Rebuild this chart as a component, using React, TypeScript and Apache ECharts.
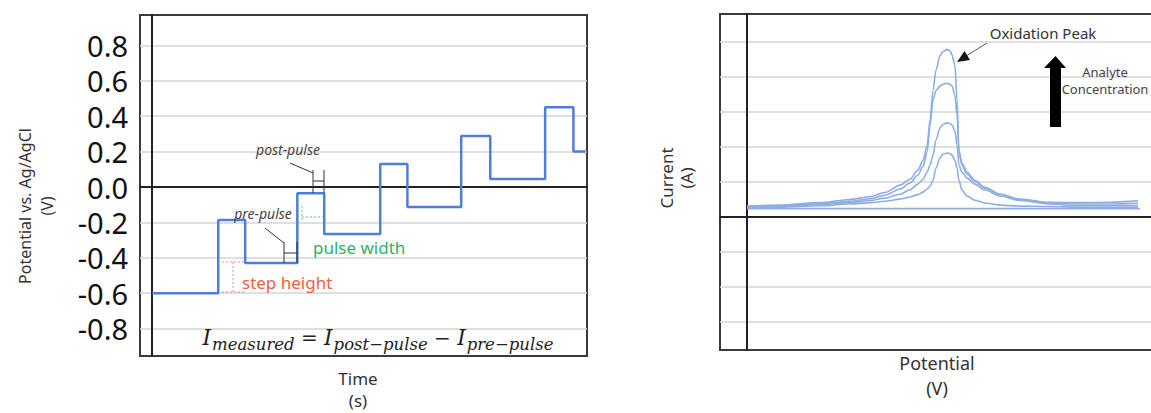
import React, { useEffect, useRef } from "react";
import * as echarts from "echarts";

// ---------- Left chart: differential pulse waveform ----------
const stepTimes = [0, 2.43, 3.42, 5.34, 6.33, 8.39, 9.39, 11.37, 12.44, 14.46, 15.5, 15.95];
const stepPotentials = [-0.6, -0.186, -0.43, -0.035, -0.265, 0.13, -0.113, 0.288, 0.045, 0.45, 0.2, 0.2];
const potentialTicks = [-0.8, -0.6, -0.4, -0.2, 0, 0.2, 0.4, 0.6, 0.8];

// ---------- Right chart: voltammograms ----------
const sweepPotentials = [0, 1.22, 2.7, 3.81, 4.56, 5.11, 5.67, 6.04, 6.33, 6.52, 6.67, 6.78, 6.89, 7.0, 7.15, 7.26, 7.41, 7.52, 7.59, 7.7, 7.78, 7.85, 7.96, 8.15, 8.44, 8.81, 9.37, 10.11, 11.22, 12.33, 13.44, 14.48];
const currentConc4 = [0.3, 0.33, 0.4, 0.49, 0.57, 0.69, 0.9, 1.07, 1.33, 1.61, 2.04, 2.76, 3.61, 4.19, 4.6, 4.72, 4.78, 4.73, 4.63, 4.33, 3.33, 1.9, 1.53, 1.27, 1.04, 0.84, 0.64, 0.5, 0.41, 0.4, 0.41, 0.45];
const currentConc3 = [0.29, 0.31, 0.37, 0.44, 0.51, 0.61, 0.79, 0.96, 1.19, 1.44, 1.84, 2.61, 3.33, 3.61, 3.73, 3.78, 3.81, 3.78, 3.74, 3.47, 2.9, 1.84, 1.47, 1.21, 1.01, 0.81, 0.64, 0.49, 0.39, 0.36, 0.36, 0.38];
const currentConc2 = [0.27, 0.3, 0.34, 0.4, 0.46, 0.53, 0.64, 0.77, 0.93, 1.07, 1.27, 1.47, 1.76, 2.19, 2.54, 2.64, 2.68, 2.66, 2.62, 2.44, 2.04, 1.47, 1.27, 1.1, 0.93, 0.76, 0.59, 0.46, 0.36, 0.31, 0.31, 0.31];
const currentConc1 = [0.26, 0.27, 0.31, 0.36, 0.4, 0.44, 0.5, 0.56, 0.63, 0.7, 0.79, 0.87, 1.04, 1.39, 1.68, 1.78, 1.82, 1.8, 1.76, 1.61, 1.39, 1.04, 0.76, 0.59, 0.47, 0.39, 0.33, 0.3, 0.29, 0.27, 0.27, 0.27];
const blankPotentials = [0, 14.55];
const blankCurrent = [0.23, 0.23];
const currentGridValues = [-3, -2, -1, 1, 2, 3, 4, 5];

const SANS = "Noto Sans";
const SERIF = "DejaVu Serif";
const curveColor = "#8eaee2";

function pairs(xs: number[], ys: number[]) {
  return xs.map((x, i) => [x, ys[i]]);
}

export default function App() {
  const ref = useRef<HTMLDivElement>(null);

  useEffect(() => {
    if (!ref.current) return;
    const chart = echarts.init(ref.current, undefined, { renderer: "svg" });

    const curveSeries = [currentConc1, currentConc2, currentConc3, currentConc4].map((ys, i) => ({
      type: "line",
      name: "Concentration " + (i + 1),
      xAxisIndex: 1,
      yAxisIndex: 1,
      data: pairs(sweepPotentials, ys),
      smooth: 0.3,
      smoothMonotone: "x",
      symbol: "none",
      lineStyle: { color: curveColor, width: 1.6 },
      z: 3,
    }));

    const annot = (x1: number, y1: number, x2: number, y2: number, stroke: string, dash?: number[]) => ({
      type: "line",
      shape: { x1, y1, x2, y2 },
      style: { stroke, lineWidth: 1, lineDash: dash },
      z: 10,
    });

    const option: any = {
      animation: false,
      backgroundColor: "#ffffff",
      grid: [
        { left: 140, top: 15, width: 447, height: 341, show: true, borderColor: "#3a3a3a", borderWidth: 2, backgroundColor: "transparent", outerBoundsMode: "none", containLabel: false },
        { left: 720, top: 14, width: 459, height: 336, show: true, borderColor: "#3a3a3a", borderWidth: 2, backgroundColor: "transparent", outerBoundsMode: "none", containLabel: false },
      ],
      xAxis: [
        {
          type: "value", gridIndex: 0, min: -0.45, max: 16,
          axisLine: { show: true, onZero: true, lineStyle: { color: "#222", width: 2 } },
          axisTick: { show: false }, axisLabel: { show: false }, splitLine: { show: false },
        },
        {
          type: "value", gridIndex: 1, min: -1, max: 16,
          axisLine: { show: true, onZero: true, lineStyle: { color: "#222", width: 2 } },
          axisTick: { show: false }, axisLabel: { show: false }, splitLine: { show: false },
        },
      ],
      yAxis: [
        {
          type: "value", gridIndex: 0, min: -0.955, max: 0.972,
          axisLine: { show: true, onZero: true, lineStyle: { color: "#222", width: 2 } },
          axisTick: { show: false, customValues: potentialTicks },
          axisLabel: {
            show: true, customValues: potentialTicks, margin: 12,
            fontFamily: SANS, fontSize: 29, color: "#111",
            formatter: (v: number) => v.toFixed(1),
          },
          splitLine: { show: true, lineStyle: { color: "#d4d4d4", width: 1.6 } },
        },
        {
          type: "value", gridIndex: 1, min: -3.81, max: 5.79,
          axisLine: { show: true, onZero: true, lineStyle: { color: "#222", width: 2 } },
          axisTick: { show: false, customValues: currentGridValues },
          axisLabel: { show: false, customValues: currentGridValues },
          splitLine: { show: true, lineStyle: { color: "#d4d4d4", width: 1.6 } },
        },
      ],
      series: [
        {
          type: "line",
          name: "Potential",
          xAxisIndex: 0,
          yAxisIndex: 0,
          data: pairs(stepTimes, stepPotentials),
          step: "end",
          symbol: "none",
          lineStyle: { color: "#4d7fd6", width: 2.5 },
          z: 3,
        },
        {
          type: "line",
          name: "Blank",
          xAxisIndex: 1,
          yAxisIndex: 1,
          data: pairs(blankPotentials, blankCurrent),
          symbol: "none",
          lineStyle: { color: curveColor, width: 1.6 },
          z: 3,
        },
        ...curveSeries,
      ],
      graphic: [
        // Left axis titles
        {
          type: "text", x: 36, y: 206, rotation: Math.PI / 2, z: 20,
          style: { text: "Potential vs. Ag/AgCl\n(V)", align: "center", verticalAlign: "middle", fontFamily: SANS, fontSize: 16, lineHeight: 22, fill: "#333" },
        },
        {
          type: "text", x: 358, y: 389, z: 20,
          style: { text: "Time\n(s)", align: "center", verticalAlign: "middle", fontFamily: SANS, fontSize: 17, lineHeight: 22, fill: "#333" },
        },
        // Equation
        {
          type: "text", x: 378, y: 342, z: 20,
          style: {
            text: "{I|I}{s|measured}{o| = }{I|I}{s|post−pulse}{o| − }{I|I}{s|pre−pulse}",
            align: "center", verticalAlign: "middle",
            rich: {
              I: { fontFamily: SERIF, fontStyle: "italic", fontSize: 21.5, lineHeight: 22, padding: [0, 1, 5, 0], verticalAlign: "bottom", fill: "#222" },
              s: { fontFamily: SERIF, fontStyle: "italic", fontSize: 16.5, lineHeight: 18, verticalAlign: "bottom", fill: "#222" },
              o: { fontFamily: SERIF, fontSize: 20, lineHeight: 20, padding: [0, 0, 5, 0], verticalAlign: "bottom", fill: "#222" },
            },
          },
        },
        // pulse annotations
        { type: "text", x: 288, y: 149, z: 20, style: { text: "post-pulse", align: "center", verticalAlign: "middle", fontFamily: SANS, fontStyle: "italic", fontSize: 14, fill: "#444" } },
        { type: "text", x: 263, y: 213, z: 20, style: { text: "pre-pulse", align: "center", verticalAlign: "middle", fontFamily: SANS, fontStyle: "italic", fontSize: 14, fill: "#444" } },
        annot(290, 163, 313, 173, "#333"),
        annot(313, 170, 313, 193, "#333"),
        annot(324, 170, 324, 193, "#333"),
        annot(313, 181, 324, 181, "#333"),
        annot(265, 228, 284, 243, "#333"),
        annot(284, 242, 284, 263, "#333"),
        annot(297, 242, 297, 263, "#333"),
        annot(284, 253, 297, 253, "#333"),
        // pulse width
        annot(302, 206, 302, 222, "#5ccf8a", [2, 2]),
        annot(302, 217, 323, 217, "#5ccf8a", [2, 2]),
        { type: "text", x: 313, y: 247, z: 20, style: { text: "pulse width", align: "left", verticalAlign: "middle", fontFamily: SANS, fontSize: 17, fill: "#33b066" } },
        // step height
        annot(233, 262, 233, 292, "#f08a8a", [2, 2]),
        annot(222, 262, 244, 262, "#f08a8a", [2, 2]),
        annot(222, 292, 244, 292, "#f08a8a", [2, 2]),
        { type: "text", x: 242, y: 282, z: 20, style: { text: "step height", align: "left", verticalAlign: "middle", fontFamily: SANS, fontSize: 17, fill: "#f2603a" } },

        // Right axis titles
        {
          type: "text", x: 676, y: 178, rotation: Math.PI / 2, z: 20,
          style: { text: "Current\n(A)", align: "center", verticalAlign: "middle", fontFamily: SANS, fontSize: 17, lineHeight: 20, fill: "#333" },
        },
        {
          type: "text", x: 937, y: 375, z: 20,
          style: { text: "Potential\n(V)", align: "center", verticalAlign: "middle", fontFamily: SANS, fontSize: 18, lineHeight: 25, fill: "#333" },
        },
        // Oxidation peak label + arrow
        { type: "text", x: 1043, y: 33, z: 20, style: { text: "Oxidation Peak", align: "center", verticalAlign: "middle", fontFamily: SANS, fontSize: 15, fill: "#333" } },
        annot(987, 43, 966, 56, "#555"),
        { type: "polygon", z: 20, shape: { points: [[957, 62], [970, 60], [964.5, 51]] }, style: { fill: "#111" } },
        // Analyte concentration arrow
        { type: "polygon", z: 20, shape: { points: [[1050, 127], [1061, 127], [1061, 68], [1066, 68], [1055.5, 56], [1044, 68], [1050, 68]] }, style: { fill: "#000" } },
        { type: "text", x: 1105, y: 80, z: 20, style: { text: "Analyte\nConcentration", align: "center", verticalAlign: "middle", fontFamily: SANS, fontSize: 13, lineHeight: 17, fill: "#444" } },
      ],
    };

    chart.setOption(option);
    return () => chart.dispose();
  }, []);

  return (
    <div
      ref={ref}
      style={{ position: "fixed", left: 0, top: 0, width: 1151, height: 413, background: "#fff" }}
    />
  );
}
